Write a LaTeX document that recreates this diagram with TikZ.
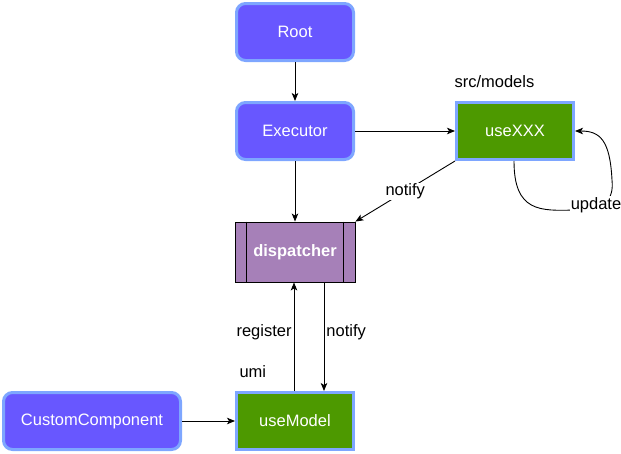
\documentclass[tikz,border=0pt]{standalone}
\usepackage{fontspec}
\setmainfont{Liberation Sans}
\usetikzlibrary{calc,arrows.meta}

\definecolor{hookblue}{RGB}{104,87,255}
\definecolor{edgeblue}{RGB}{126,166,255}
\definecolor{modelgreen}{RGB}{77,153,0}
\definecolor{disppurple}{RGB}{166,128,184}

\begin{document}
\begin{tikzpicture}[
		x=1pt, y=-1pt,
		>={Stealth[length=8pt, width=6.5pt, inset=2pt]},
		font=\fontsize{16.5}{19}\selectfont,
		link/.style={->, line width=0.9pt},
		comp/.style={draw=edgeblue, line width=3pt, fill=hookblue, text=white, rounded corners=9pt, minimum width=117pt, minimum height=57pt, inner sep=0pt},
		model/.style={draw=edgeblue, line width=3pt, fill=modelgreen, text=white, minimum width=117pt, minimum height=57pt, inner sep=0pt},
		tag/.style={fill=white, inner sep=1pt}
	]

		\useasboundingbox (0,0) rectangle (621,453);

		%components
		\node[comp] (root) at (295,32) {Root};
		\node[comp] (exec) at (295,131) {Executor};
		\node[comp, minimum width=177pt] (custom) at (92,421) {CustomComponent};

		%models
		\node[model] (usexxx) at (515,131) {useXXX};
		\node[model] (usemodel) at (295,421) {useModel};
		\node[anchor=west] (srcmodels) at (451,82) {src/models};
		\node[anchor=west] (umi) at (236,372) {umi};

		%dispatcher
		\node[draw, line width=0.9pt, fill=disppurple, text=white, font=\fontsize{16.5}{19}\selectfont\bfseries, minimum width=120pt, minimum height=60pt] (disp) at (295,252) {dispatcher};
		\draw[line width=0.9pt] ($(disp.north west)+(12,0)$) -- ($(disp.south west)+(12,0)$);
		\draw[line width=0.9pt] ($(disp.north east)+(-12,0)$) -- ($(disp.south east)+(-12,0)$);

		%links
		\draw[link] (root) -- (exec);
		\draw[link] (exec) -- (usexxx);
		\draw[link] (exec) -- (disp);
		\draw[link] (usexxx.south west) -- (disp.north east) node[tag, midway] {notify};
		\draw[link] (custom) -- (usemodel);
		\draw[link] ($(usemodel.north)+(-1,0)$) -- ($(disp.south)+(-1,0)$) node[midway, left, inner sep=2pt, yshift=4pt] {register};
		\draw[link] ($(disp.south)+(29,0)$) -- ($(usemodel.north)+(29,0)$) node[midway, right, inner sep=2pt, yshift=4pt] {notify};

		%update loop
		\draw[link] ($(usexxx.south)+(-1,0)$) .. controls (514,212) and (540,211) .. (575,210) .. controls (605,209) and (614,200) .. (612,180) .. controls (610,140) and (600,131) .. (usexxx.east);
		\node[tag] (update) at (596,205) {update};
	\end{tikzpicture}
\end{document}
